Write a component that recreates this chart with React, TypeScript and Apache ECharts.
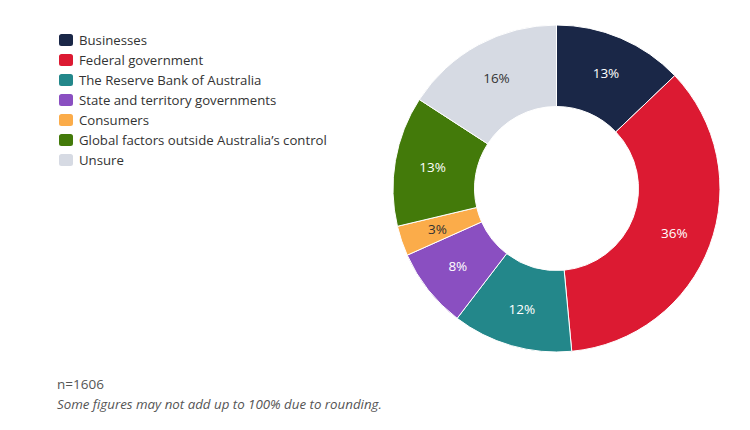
import React, { useEffect, useRef } from "react";
import * as echarts from "echarts";

const categories = [
  "Businesses",
  "Federal government",
  "The Reserve Bank of Australia",
  "State and territory governments",
  "Consumers",
  "Global factors outside Australia’s control",
  "Unsure",
];
const values = [13, 36, 12, 8, 3, 13, 16];
const colors = ["#1a2747", "#dc1a32", "#23878a", "#8a4fc1", "#fbac4a", "#437a0a", "#d6dae3"];
const labelColors = ["#ffffff", "#ffffff", "#ffffff", "#ffffff", "#333333", "#ffffff", "#333333"];
const sampleNote = "n=1606";
const roundingNote = "Some figures may not add up to 100% due to rounding.";

const FONT = "'Open Sans', 'Noto Sans', sans-serif";

export default function App() {
  const ref = useRef<HTMLDivElement>(null);
  useEffect(() => {
    if (!ref.current) return;
    const chart = echarts.init(ref.current, null, { renderer: "svg" });
    chart.setOption({
      animation: false,
      backgroundColor: "#ffffff",
      textStyle: { fontFamily: FONT },
      legend: {
        orient: "vertical",
        left: 57,
        top: 32,
        padding: 0,
        itemWidth: 16,
        itemHeight: 14,
        itemGap: 4,
        icon: "roundRect",
        textStyle: { fontSize: 13.2, color: "#333333", fontFamily: FONT },
        data: categories,
      },
      graphic: [
        {
          type: "text",
          left: 57,
          top: 377,
          style: { text: sampleNote, fontSize: 13.5, fill: "#555555", fontFamily: FONT },
        },
        {
          type: "text",
          left: 57,
          top: 397,
          style: { text: roundingNote, fontSize: 13.3, fill: "#555555", fontStyle: "italic", fontFamily: FONT },
        },
      ],
      series: [
        {
          type: "pie",
          center: [556.5, 188.5],
          radius: [82, 163.5],
          startAngle: 90,
          clockwise: true,
          avoidLabelOverlap: false,
          itemStyle: { borderColor: "#ffffff", borderWidth: 1 },
          label: {
            show: true,
            position: "inside",
            formatter: "{c}%",
            fontSize: 13.5,
            fontFamily: FONT,
          },
          labelLine: { show: false },
          emphasis: { disabled: true },
          data: categories.map((name, i) => ({
            name,
            value: values[i],
            itemStyle: { color: colors[i] },
            label: { color: labelColors[i] },
          })),
        },
      ],
    });
    return () => chart.dispose();
  }, []);
  return (
    <div
      ref={ref}
      style={{ position: "absolute", left: 0, top: 0, width: 750, height: 430 }}
    />
  );
}
